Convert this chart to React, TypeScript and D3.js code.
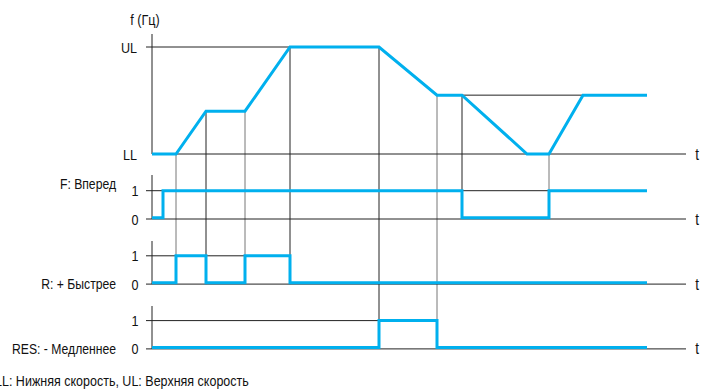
import React from "react";
import * as d3 from "d3";

// ---- data ----
const freqTimes = [0, 2.4, 5.4, 9.3, 13.8, 22.7, 28.5, 31.0, 37.5, 39.7, 43.1, 49.5];
const freqValues = [0, 0, 40, 40, 100, 100, 55, 55, 0, 0, 55, 55];
const freqTickLabels = ["LL", "UL"];
const freqTickValues = [0, 100];

// step signals: change times and levels (level holds until next time)
const fTimes = [0, 1.1, 31.0, 39.7, 49.5];
const fLevels = [0, 1, 0, 1, 1];
const rTimes = [0, 2.4, 5.4, 9.3, 13.8, 49.5];
const rLevels = [0, 1, 0, 1, 0, 0];
const resTimes = [0, 22.7, 28.5, 49.5];
const resLevels = [0, 1, 0, 0];

const signalNames = ["F: Вперед", "R: + Быстрее", "RES: - Медленнее"];
const levelLabels = ["0", "1"];

// guide verticals: time, top (freq level), bottom (panel/level)
const guideTimes = [2.4, 5.4, 9.3, 13.8, 22.7, 28.5, 31.0, 39.7];
const guideFreqTop = [0, 40, 40, 100, 100, 55, 55, 0];
const guideBottomPanel = [1, 1, 1, 1, 2, 2, 0, 0]; // 0=F,1=R,2=RES
const guideBottomLevel = [0, 0, 0, 0, 1, 1, 1, 1];
const guideGray = [true, false, true, false, false, true, false, true];

const footnote = "LL: Нижняя скорость, UL: Верхняя скорость";

const W = 701, H = 389;
const BLUE = "#00b0ee";
const INK = "#222";
const FONT = "'Liberation Sans', Arial, sans-serif";
const SX = 0.84;

function CText(props: { x: number; y: number; size: number; anchor?: string; children: React.ReactNode }) {
  const { x, y, size, anchor = "start", children } = props;
  return (
    <text transform={`translate(${x},${y}) scale(${SX},1)`} fontSize={size} textAnchor={anchor}
      fill="#111" fontFamily={FONT}>{children}</text>
  );
}

export default function App() {
  const x = d3.scaleLinear().domain([0, 53.4]).range([152, 686]);
  const yF = d3.scaleLinear().domain([0, 100]).range([154, 47]);
  const panels = [
    { times: fTimes, levels: fLevels, y: d3.scaleLinear().domain([0, 1]).range([217.7, 190.7]), axisTop: 175 },
    { times: rTimes, levels: rLevels, y: d3.scaleLinear().domain([0, 1]).range([282.8, 255.8]), axisTop: 241 },
    { times: resTimes, levels: resLevels, y: d3.scaleLinear().domain([0, 1]).range([347.6, 320.6]), axisTop: 306 },
  ];
  const base = (p: typeof panels[0]) => p.y(0) + 1.3;

  const freqLine = d3.line<number>().x((_, i) => x(freqTimes[i])).y((v) => yF(v));
  const stepLine = d3.line<[number, number]>().curve(d3.curveStepAfter);

  const axisEnd = x.range()[1];

  const hGuides = [
    { y: yF(100), x1: 146, x2: x(13.8) },
    { y: yF(55), x1: x(28.5), x2: x(43.1) },
    { y: panels[0].y(1), x1: 146, x2: x(39.7) },
    { y: panels[1].y(1), x1: 146, x2: x(13.8) },
    { y: panels[2].y(1), x1: 146, x2: x(22.7) },
  ];

  return (
    <svg width={W} height={H} style={{ position: "absolute", left: 0, top: 0 }}>
      <rect width={W} height={H} fill="#fff" />
      {guideTimes.map((t, i) => {
        const p = panels[guideBottomPanel[i]];
        const yb = guideBottomLevel[i] === 0 ? base(p) : p.y(1);
        return (
          <line key={"vg" + i} x1={x(t)} x2={x(t)} y1={yF(guideFreqTop[i])} y2={yb}
            stroke={guideGray[i] ? "#777" : INK} strokeWidth={1} />
        );
      })}
      {hGuides.map((g, i) => (
        <line key={"hg" + i} x1={g.x1} x2={g.x2} y1={g.y} y2={g.y} stroke={INK} strokeWidth={1} />
      ))}
      <line x1={152} x2={152} y1={34} y2={154} stroke={INK} />
      <line x1={152} x2={axisEnd} y1={154} y2={154} stroke={INK} />
      <CText x={145} y={25} size={15} anchor="middle">f (Гц)</CText>
      {freqTickValues.map((v, i) => (
        <CText key={"ft" + i} x={137} y={yF(v) + 5.5} size={15} anchor="end">{freqTickLabels[i]}</CText>
      ))}
      <CText x={697} y={159.5} size={16} anchor="middle">t</CText>
      {panels.map((p, k) => (
        <g key={"p" + k}>
          <line x1={152} x2={152} y1={p.axisTop} y2={base(p)} stroke={INK} />
          <line x1={146} x2={axisEnd} y1={base(p)} y2={base(p)} stroke={INK} />
          <CText x={135} y={p.y(1) + 5.5} size={15} anchor="middle">{levelLabels[1]}</CText>
          <CText x={135} y={base(p) + 5.5} size={15} anchor="middle">{levelLabels[0]}</CText>
          <CText x={697} y={base(p) + 5.5} size={16} anchor="middle">t</CText>
        </g>
      ))}
      <CText x={116} y={189} size={14.5} anchor="end">{signalNames[0]}</CText>
      <CText x={116} y={base(panels[1]) + 5} size={14.5} anchor="end">{signalNames[1]}</CText>
      <CText x={116} y={base(panels[2]) + 5} size={14.5} anchor="end">{signalNames[2]}</CText>
      <path d={freqLine(freqValues) || ""} fill="none" stroke={BLUE} strokeWidth={3} />
      {panels.map((p, k) => (
        <path key={"s" + k}
          d={stepLine(p.times.map((t, i) => [x(t), p.y(p.levels[i])] as [number, number])) || ""}
          fill="none" stroke={BLUE} strokeWidth={3} />
      ))}
      <CText x={-5} y={386} size={14.9}>{footnote}</CText>
    </svg>
  );
}
